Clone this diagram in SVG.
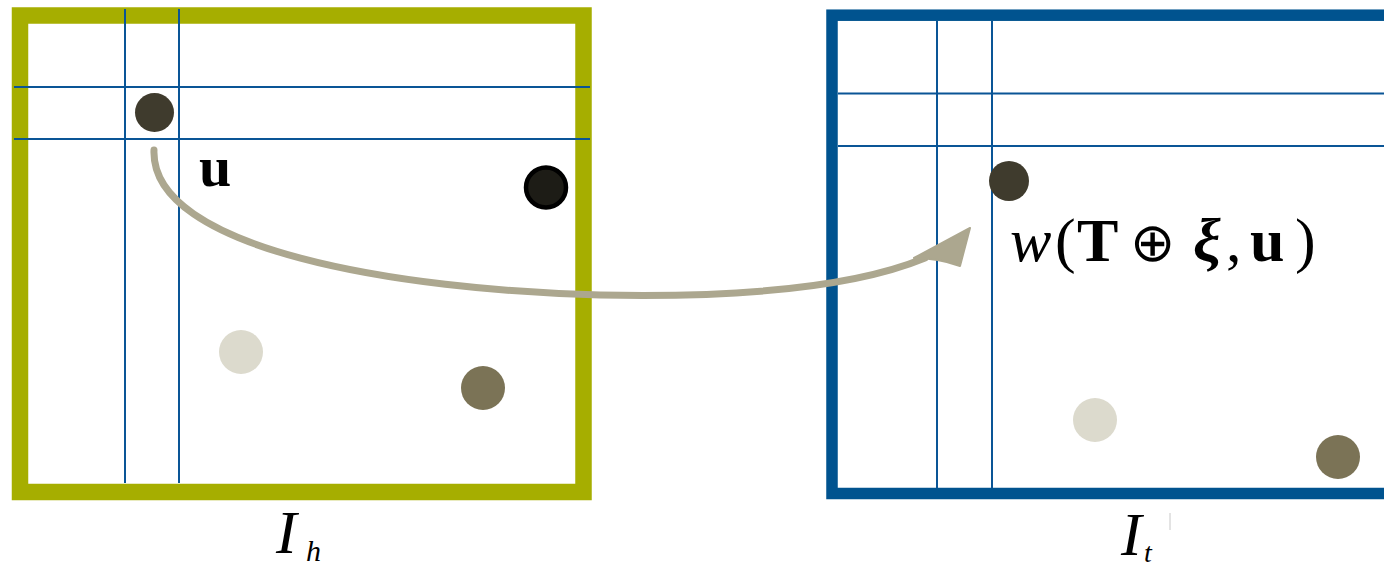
<svg xmlns="http://www.w3.org/2000/svg" width="1384" height="566" viewBox="0 0 1384 566">
<style>
.grid{stroke:#0a5596;stroke-width:2;fill:none}
.m{font-family:"Liberation Serif",serif;fill:#000}
.it{font-style:italic}
.b{font-weight:bold}
</style>
<rect width="1384" height="566" fill="#fff"/>
<g id="image-h">
<rect x="20" y="15.5" width="563.5" height="476.5" fill="#fff" stroke="#a6ae00" stroke-width="16.5"/>
<line class="grid" x1="125" y1="9" x2="125" y2="483"/>
<line class="grid" x1="179" y1="9" x2="179" y2="483"/>
<line class="grid" x1="14" y1="87" x2="590" y2="87"/>
<line class="grid" x1="14" y1="139" x2="590" y2="139"/>
<circle cx="154.5" cy="112.5" r="19.5" fill="#3f3b2d"/>
<circle cx="546" cy="187.5" r="20" fill="#1d1c16" stroke="#000" stroke-width="4.5"/>
<circle cx="241" cy="352" r="22" fill="#dcdacd"/>
<circle cx="483" cy="388" r="22" fill="#7b7356"/>
<text class="m it" x="276" y="553" font-size="62">I</text>
<text class="m it" x="306" y="561" font-size="30">h</text>
</g>
<g id="image-t">
<rect x="832" y="15.2" width="700" height="478.3" fill="#fff" stroke="#00538f" stroke-width="11.5"/>
<line class="grid" x1="937" y1="21" x2="937" y2="488"/>
<line class="grid" x1="992" y1="21" x2="992" y2="488"/>
<line class="grid" x1="838" y1="93.5" x2="1384" y2="93.5"/>
<line class="grid" x1="838" y1="146" x2="1384" y2="146"/>
<circle cx="1009" cy="181" r="20" fill="#3f3b2d"/>
<circle cx="1095" cy="420" r="22" fill="#dcdacd"/>
<circle cx="1338" cy="457" r="22" fill="#7b7356"/>
<text class="m it" x="1121" y="555" font-size="62">I</text>
<text class="m it" x="1144" y="562" font-size="28">t</text>
<line x1="1170" y1="513" x2="1170" y2="530" stroke="#c8c8c8" stroke-width="1"/>
</g>
<g id="connectors">
<path d="M154,150 C150,250 400,290 600,295 C750,298 860,285 925,258" fill="none" stroke="#aca78f" stroke-width="7" stroke-linecap="round"/>
<path d="M970,228 L914,258 Q938,258 960,266 Z" fill="#aca78f" stroke="#aca78f" stroke-width="2" stroke-linejoin="round"/>
</g>
<g id="labels">
<text class="m b" x="199" y="186" font-size="58">u</text>
<text class="m" y="261" font-size="62"><tspan class="it" x="1010">w</tspan><tspan x="1055">(</tspan><tspan class="b" x="1077">T</tspan><tspan x="1130" font-family="DejaVu Sans" font-weight="200" font-size="54">⊕</tspan><tspan class="b it" x="1193">ξ</tspan><tspan x="1226">,</tspan><tspan class="b" x="1250">u</tspan><tspan x="1295">)</tspan></text>
</g>
</svg>
